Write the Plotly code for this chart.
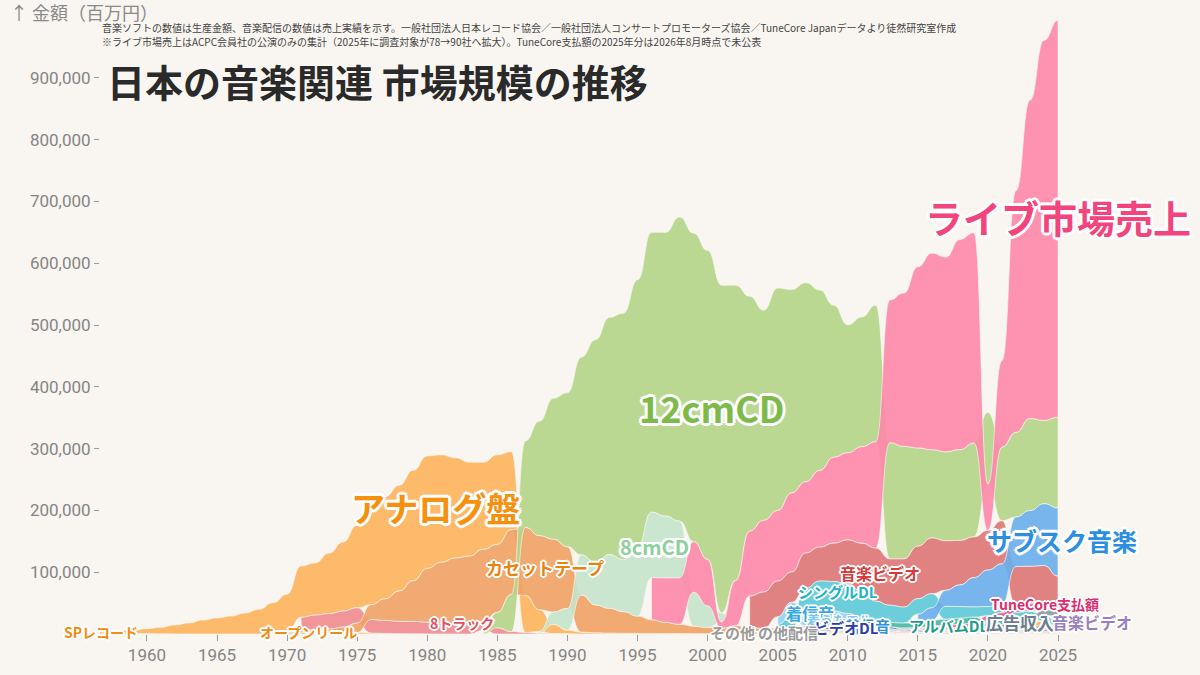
import plotly.graph_objects as go

# ---------------- data (百万円) ----------------
sp_start = 1956
sp = [3500, 2600, 1800, 1200, 700, 300, 100]

analog_start = 1956
analog = [1000, 1600, 3200, 5300, 7900, 10700, 14500, 18000, 22600, 26000,
          29000, 34000, 40000, 49000, 61000, 83000, 84500, 98000, 112000, 133500,
          149500, 165000, 171000, 178700, 182000, 174000, 162000, 152000, 141000, 145000,
          126000, 60000, 35000, 15000, 6000, 3000, 2000, 1500, 1200, 1000,
          1000, 800, 700, 600, 500, 400, 400, 400, 400, 300,
          300, 300, 300, 300, 300, 300, 300, 500, 700, 1800,
          2000, 2500, 2500, 2500, 2100, 3900, 4300, 6300, 7900, 8500]

openreel_start = 1969
openreel = [1000, 2000, 2500, 3000, 3000, 3000, 2500, 1500, 1000, 600, 300, 150]

track8_start = 1971
track8 = [22000, 24000, 25000, 26000, 25000, 22000, 21000, 20000, 20000, 19000,
          18000, 17000, 16000, 14000, 10000, 4000, 2500, 1200, 600, 300]

cassette_start = 1969
cassette = [500, 1500, 2500, 3500, 5000, 8000, 15000, 24000, 35000, 49000,
            66000, 87000, 98000, 106000, 110000, 117000, 110000, 105000, 110000, 120000,
            118000, 100000, 60000, 45000, 40000, 35000, 28000, 22000, 18000, 15000,
            12000, 10000, 9000, 7000, 6000, 5000, 4000, 3500, 3000, 2500,
            2000, 1500, 1200, 1000, 800, 700, 600, 600, 550, 500,
            500, 500, 500, 500, 500, 500, 500]

cd12_start = 1984
cd12 = [6000, 25000, 60000, 140000, 185000, 228000, 249000, 320000, 361000, 384000,
        399000, 434000, 453000, 459000, 492000, 499000, 500000, 530000, 478000, 380000,
        340000, 360000, 329000, 322000, 292000, 246000, 207000, 210000, 221000, 188000,
        182000, 159000, 143000, 144000, 147000, 152000, 116000, 119000, 137000, 149000,
        135000, 147000]

cd8_start = 1988
cd8 = [3000, 20000, 35000, 65000, 68000, 87000, 84000, 110000, 106000, 100000,
       92000, 55000, 35000, 15000, 6000, 4000, 2000, 1000, 500, 400,
       300, 200, 200, 200, 200, 200, 200, 200]

live_start = 1996
live = [68000, 72000, 75000, 82000, 75000, 10000, 73000, 105000, 116000, 114000,
        128000, 115000, 124000, 139000, 141000, 156000, 172000, 231000, 248000, 293000,
        318000, 315000, 340000, 340000, 75000, 140000, 391000, 515000, 615000, 642000]

mv_start = 2003
mv = [50000, 59000, 58000, 49000, 57000, 55000, 62000, 72000, 78000, 86000,
      75000, 78000, 85000, 90000, 80000, 72000, 66000, 64000, 70000, 62000,
      60000, 58000, 55000]

single_start = 2005
single_dl = [6000, 18000, 35000, 45000, 48000, 47000, 42000, 33000, 28000, 26000,
             25000, 23000, 21000, 19000, 17000, 15000, 13000, 11000, 10000, 9000, 8000]

ring_start = 2005
ringtone = [12000, 22000, 26000, 25000, 20000, 15000, 10000, 5000, 3000, 2000,
            1500, 1000, 800, 600, 400, 300]

videodl_start = 2006
video_dl = [1000, 2000, 4000, 5000, 6000, 5000, 4000, 3000, 2000, 1500,
            1200, 1000, 800, 700, 600, 500, 500, 400, 400, 300]

album_start = 2005
album_dl = [1000, 2000, 3000, 4000, 5000, 6000, 6000, 6000, 7000, 8000,
            9000, 10000, 10000, 10000, 9000, 9000, 8000, 7000, 6000, 6000, 5000]

otherdist_start = 2005
other_dist = [2000, 2500, 3000, 3000, 3000, 3000, 3000, 2500, 2500, 2000,
              2000, 2000, 2000, 2000, 2000, 2000, 2000, 2000, 2000, 2000, 2000]

other_start = 2003
other = [1000, 1500, 1500, 1500, 1500, 1500, 1500, 1200, 1200, 1000,
         1000, 1000, 1000, 1000, 1000, 1000, 1000, 1000, 1000, 1000,
         1000, 1000, 1000]

ad_start = 2016
ad_rev = [2000, 2500, 3000, 4000, 5000, 6000, 7000, 8000, 9000, 10000]

sub_start = 2015
subscription = [13000, 20000, 26000, 35000, 47000, 59000, 66000, 80000, 90000, 100000, 110000]

tunecore_start = 2013
tunecore = [500, 1000, 1500, 2500, 3500, 5000, 7000, 9000, 11000, 12000, 13000, 14000]

mvdist_start = 2021
mv_dist = [1500, 2000, 2500, 3000, 3500]

series = [
    ("SPレコード", sp_start, sp, "rgba(247,168,80,0.9)"),
    ("アナログ盤", analog_start, analog, "rgba(253,180,92,0.9)"),
    ("オープンリール", openreel_start, openreel, "rgba(248,181,101,0.9)"),
    ("8トラック", track8_start, track8, "rgba(239,139,143,0.9)"),
    ("カセットテープ", cassette_start, cassette, "rgba(240,162,99,0.9)"),
    ("12cmCD", cd12_start, cd12, "rgba(180,213,138,0.92)"),
    ("8cmCD", cd8_start, cd8, "rgba(197,228,203,0.92)"),
    ("ライブ市場売上", live_start, live, "rgba(253,135,170,0.9)"),
    ("音楽ビデオ", mv_start, mv, "rgba(222,117,117,0.9)"),
    ("シングルDL", single_start, single_dl, "rgba(92,202,216,0.9)"),
    ("着信音", ring_start, ringtone, "rgba(143,210,242,0.9)"),
    ("ビデオDL", videodl_start, video_dl, "rgba(90,107,200,0.9)"),
    ("アルバムDL", album_start, album_dl, "rgba(69,184,165,0.9)"),
    ("その他配信", otherdist_start, other_dist, "rgba(189,189,189,0.9)"),
    ("その他", other_start, other, "rgba(207,198,189,0.9)"),
    ("広告収入", ad_start, ad_rev, "rgba(140,154,171,0.9)"),
    ("サブスク音楽", sub_start, subscription, "rgba(106,174,236,0.9)"),
    ("TuneCore支払額", tunecore_start, tunecore, "rgba(236,90,146,0.9)"),
    ("音楽ビデオ配信", mvdist_start, mv_dist, "rgba(181,150,214,0.9)"),
]

BG = "#f9f5f0"

# ---------------- rank stacking (largest on top) ----------------
years = sorted({s + i for _, s, v, _ in series for i in range(len(v))})
bounds = {name: {} for name, _, _, _ in series}
for yr in years:
    present = []
    for idx, (name, s, v, _) in enumerate(series):
        if s <= yr < s + len(v):
            present.append((v[yr - s], idx, name))
    present.sort()
    base = 0
    for val, idx, name in present:
        bounds[name][yr] = (base, base + val)
        base += val


def bump_path(xs, lo, hi):
    p = [f"M{xs[0]},{lo[0]}", f"L{xs[0]},{hi[0]}"]
    for i in range(1, len(xs)):
        xm = (xs[i - 1] + xs[i]) / 2
        p.append(f"C{xm},{hi[i-1]} {xm},{hi[i]} {xs[i]},{hi[i]}")
    p.append(f"L{xs[-1]},{lo[-1]}")
    for i in range(len(xs) - 1, 0, -1):
        xm = (xs[i - 1] + xs[i]) / 2
        p.append(f"C{xm},{lo[i]} {xm},{lo[i-1]} {xs[i-1]},{lo[i-1]}")
    p.append("Z")
    return " ".join(p)


shapes = []
for name, s, v, col in series:
    xs = sorted(bounds[name])
    lo = [bounds[name][x][0] for x in xs]
    hi = [bounds[name][x][1] for x in xs]
    shapes.append(dict(type="path", path=bump_path(xs, lo, hi), xref="x", yref="y",
                       fillcolor=col, line=dict(color="rgba(249,245,240,0.85)", width=0.8),
                       layer="above"))

fig = go.Figure()
fig.add_trace(go.Scatter(x=[years[0], years[-1]], y=[0, 0], mode="lines",
                         line=dict(width=0), hoverinfo="skip", showlegend=False))


def outline(w, c="#ffffff"):
    offs = [(w, 0), (-w, 0), (0, w), (0, -w), (w * .7, w * .7), (-w * .7, -w * .7),
            (w * .7, -w * .7), (-w * .7, w * .7)]
    return ", ".join(f"{a:.1f}px {b:.1f}px 0px {c}" for a, b in offs)


JP = "Noto Sans CJK JP"
# label text, x (year), y (value), size, colour, outline width
labels = [
    ("ライブ市場売上", 2025.0, 675000, 38, "#f2457d", 3),
    ("12cmCD", 2000.3, 367000, 36, "#7dba4a", 3),
    ("アナログ盤", 1980.6, 204000, 34, "#f5910f", 3),
    ("サブスク音楽", 2025.3, 152000, 25, "#2b8ee0", 3),
    ("8cmCD", 1996.2, 142000, 20, "#8dd09d", 2.5),
    ("カセットテープ", 1988.4, 107000, 17, "#e9830f", 2),
    ("音楽ビデオ", 2012.3, 99000, 16, "#d63a3a", 2),
    ("シングルDL", 2009.3, 68000, 15, "#1db4c9", 2),
    ("着信音", 2007.3, 34000, 16, "#39a9e0", 2),
    ("着うたフル", 2009.4, 24000, 13, "#7cc8ec", 1.5),
    ("着信音", 2011.4, 13000, 15, "#2f8fd8", 2),
    ("ビデオDL", 2009.9, 11000, 15, "#2e3ea6", 2),
    ("アルバムDL", 2017.2, 14500, 15, "#1f9c88", 2),
    ("その他配信", 2005.2, 3000, 15, "#9a9a9a", 1.5),
    ("その他", 2001.8, 3000, 15, "#a09a94", 1.5),
    ("広告収入", 2022.3, 19000, 17, "#6d7d8f", 2),
    ("音楽ビデオ", 2027.4, 19000, 16, "#9a7fbf", 2),
    ("TuneCore支払額", 2024.1, 48500, 14, "#dd2d6e", 2),
    ("8トラック", 1982.5, 18000, 14, "#e2505f", 2),
    ("オープンリール", 1971.5, 3000, 14, "#f08c12", 2),
    ("SPレコード", 1956.7, 2500, 14, "#f08c12", 2),
]

annotations = []
for text, lx, ly, size, col, ow in labels:
    annotations.append(dict(x=lx, y=ly, xref="x", yref="y", text=f"<b>{text}</b>",
                            showarrow=False, xanchor="center", yanchor="middle",
                            font=dict(family=JP, size=size, color=col, shadow=outline(ow))))

annotations += [
    dict(x=0.0045, y=0.8964, xref="paper", yref="paper", xanchor="left", yanchor="middle",
         text="<b>日本の音楽関連 市場規模の推移</b>", showarrow=False,
         font=dict(family=JP, size=38, color="#2a2a2a")),
    dict(x=0.0, y=0.9806, xref="paper", yref="paper", xanchor="left", yanchor="middle",
         text="音楽ソフトの数値は生産金額、音楽配信の数値は売上実績を示す。一般社団法人日本レコード協会／一般社団法人コンサートプロモーターズ協会／TuneCore Japanデータより徒然研究室作成",
         showarrow=False, font=dict(family=JP, size=10, color="#444444")),
    dict(x=0.0, y=0.9595, xref="paper", yref="paper", xanchor="left", yanchor="middle",
         text="※ライブ市場売上はACPC会員社の公演のみの集計（2025年に調査対象が78→90社へ拡大）。TuneCore支払額の2025年分は2026年8月時点で未公表",
         showarrow=False, font=dict(family=JP, size=10, color="#444444")),
    dict(x=-0.0836, y=1.0065, xref="paper", yref="paper", xanchor="left", yanchor="middle",
         text="↑ 金額（百万円）", showarrow=False,
         font=dict(family=JP, size=18, color="#8a8a8a")),
]

fig.update_layout(
    width=1200, height=675,
    margin=dict(l=100, r=0, t=16, b=41),
    paper_bgcolor=BG, plot_bgcolor=BG,
    showlegend=False,
    shapes=shapes,
    annotations=annotations,
    xaxis=dict(range=[1956.65, 2035.13], tickvals=list(range(1960, 2026, 5)),
               showgrid=False, zeroline=False, showline=False,
               ticks="outside", ticklen=6, tickcolor="#9a9a9a",
               tickfont=dict(family="Roboto", size=17, color="#858585")),
    yaxis=dict(range=[0, 1000000], tickvals=list(range(100000, 1000000, 100000)),
               tickformat=",", showgrid=False, zeroline=False, showline=False,
               ticks="outside", ticklen=5, tickcolor="#9a9a9a",
               tickfont=dict(family="Roboto", size=17, color="#858585")),
)

fig.write_html("out.html", config={"displayModeBar": False},
               post_script="document.body.style.margin='0';document.body.style.background='%s';" % BG)
